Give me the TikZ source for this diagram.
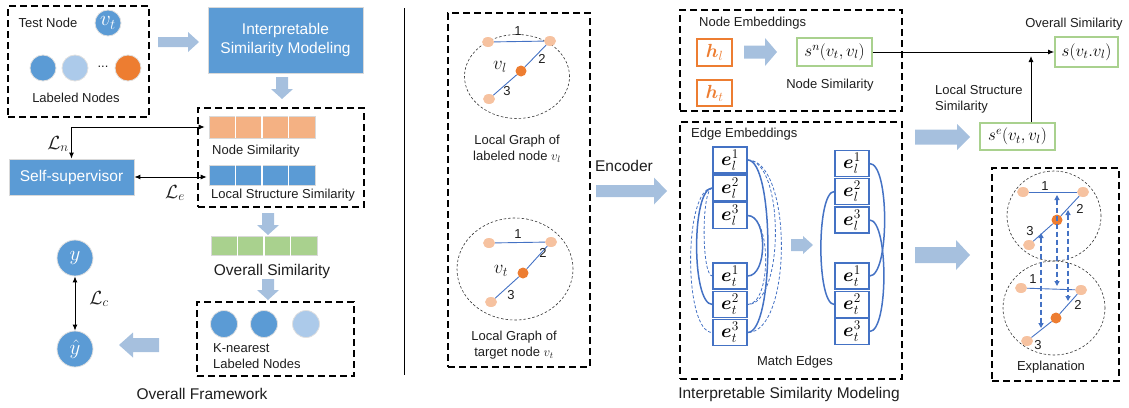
\RequirePackage{fix-cm}
\documentclass[tikz,border=0pt]{standalone}
\usepackage{fontspec}
\setmainfont{Liberation Sans}
\usepackage{amsmath}
\usepackage{bm}
\usetikzlibrary{arrows.meta,calc,shapes.geometric}

\definecolor{nblue}{RGB}{91,155,213}
\definecolor{lblue}{RGB}{172,202,234}
\definecolor{norange}{RGB}{237,125,49}
\definecolor{lorange}{RGB}{246,194,160}
\definecolor{barorange}{RGB}{244,177,131}
\definecolor{bargreen}{RGB}{169,209,142}
\definecolor{eblue}{RGB}{68,114,196}
\definecolor{fatc}{RGB}{166,192,222}
\definecolor{ink}{RGB}{30,30,30}

\tikzset{
  fat len/.store in=\fatlen, fat shaft/.store in=\fatshaft,
  fat head/.store in=\fathead, fat tip/.store in=\fattip,
  fat len=40, fat shaft=5, fat head=10, fat tip=11,
  fatarrow/.pic={
    \fill[fatc] (0,-\fatshaft) -- ({\fatlen-\fattip},-\fatshaft) -- ({\fatlen-\fattip},-\fathead)
      -- (\fatlen,0) -- ({\fatlen-\fattip},\fathead) -- ({\fatlen-\fattip},\fatshaft)
      -- (0,\fatshaft) -- cycle;
  },
  dbox/.style={draw=black, line width=1.3pt, dash pattern=on 7pt off 4pt, inner sep=0pt, outer sep=0pt},
  txt/.style={font=\fontsize{13}{16}\selectfont, text=ink, inner sep=0pt},
  bigtxt/.style={font=\fontsize{15.5}{19}\selectfont, text=ink, inner sep=0pt},
  mtxt/.style={font=\fontsize{19}{19}\selectfont, text=ink, inner sep=0pt},
  solidbox/.style={fill=nblue, draw=black!15, line width=0.8pt, text=white,
    font=\fontsize{15.5}{19}\selectfont, inner sep=0pt, align=center},
  dot/.style={circle, draw=black!12, line width=0.8pt, inner sep=0pt, minimum size=26pt},
  bigdot/.style={dot, fill=nblue, text=white, minimum size=36pt, font=\fontsize{21}{21}\selectfont},
  gnode/.style={ellipse, fill=lorange, minimum width=12pt, minimum height=10pt, inner sep=0pt},
  cnode/.style={circle, fill=norange, minimum size=11pt, inner sep=0pt},
  gedge/.style={eblue, line width=0.9pt},
  ring/.style={ellipse, draw=black!80, line width=0.6pt, dash pattern=on 2.5pt off 2pt, inner sep=0pt},
  bar/.style={draw=black!15, line width=0.6pt, minimum width=106pt, inner sep=0pt},
  emb/.style={draw=eblue, line width=1.3pt, fill=white, minimum width=34pt, minimum height=26pt,
    inner sep=0pt, font=\fontsize{19}{19}\selectfont},
  simbox/.style={draw=bargreen, line width=1.8pt, fill=white, inner sep=0pt, font=\fontsize{17}{17}\selectfont},
  hbox/.style={draw=norange, line width=1.3pt, minimum width=35pt, minimum height=27pt, inner sep=0pt,
    text=norange, font=\fontsize{19}{19}\selectfont},
  conn/.style={line width=0.9pt, black},
  oneway/.style={-{Latex[length=6pt,width=5pt]}},
  twoway/.style={{Latex[length=6pt,width=5pt]}-{Latex[length=6pt,width=5pt]}},
  match/.style={eblue, line width=1.5pt},
  cand/.style={eblue, line width=0.8pt, dash pattern=on 3pt off 2pt},
  expl/.style={eblue, line width=1.4pt, dash pattern=on 5pt off 3pt,
    {Triangle[length=5pt,width=5pt]}-{Triangle[length=5pt,width=5pt]}},
}

\begin{document}
\begin{tikzpicture}[x=1pt,y=-1pt]
\useasboundingbox (0,0) rectangle (1129,407);

%% ---------------- overall framework (left) ----------------
\node[dbox, minimum width=141pt, minimum height=111pt] (inputfr) at (78.5,61.5) {};
\node[txt] (testlbl) at (48,23) {Test Node};
\node[dot, fill=nblue, text=white, font=\fontsize{21}{21}\selectfont] (vt) at (108,23) {$v_t$};
\node[dot, fill=nblue] (ln1) at (43,68) {};
\node[dot, fill=lblue] (ln2) at (75,68) {};
\node[txt] (lndots) at (103,67) {...};
\node[dot, fill=norange] (ln3) at (128,68) {};
\node[txt] (lnlbl) at (76,98) {Labeled Nodes};

\pic[fat len=41, fat shaft=5, fat head=10, fat tip=11] at (158,42) {fatarrow};

\node[solidbox, minimum width=155pt, minimum height=66pt] (ism) at (285.5,40)
  {Interpretable\\Similarity Modeling};
\pic[rotate=-90, fat len=22, fat shaft=6, fat head=11, fat tip=10] at (282,77) {fatarrow};

\node[dbox, minimum width=166pt, minimum height=99pt] (simfr) at (281,157.5) {};
\node[bar, fill=barorange, minimum height=22pt] (nsbar) at (262,127) {};
\node[txt, anchor=west] (nslbl) at (212,151) {Node Similarity};
\node[bar, fill=nblue, minimum height=20pt] (lsbar) at (262,175.5) {};
\node[txt, anchor=west] (lslbl) at (211,195) {Local Structure Similarity};

\node[solidbox, minimum width=125pt, minimum height=36pt] (ss) at (71.5,177) {Self-supervisor};
\draw[conn, twoway, shorten <=4pt] (nsbar.west) -| (ss.north);
\node[mtxt] (lnlab) at (58,144) {$\mathcal{L}_n$};
\draw[conn, twoway, shorten >=2pt] (ss.east) -- (ss.east -| lsbar.west);
\node[mtxt] (lelab) at (175,193) {$\mathcal{L}_e$};

\pic[rotate=-90, fat len=22, fat shaft=6, fat head=11, fat tip=10] at (268,213) {fatarrow};
\node[bar, fill=bargreen, minimum height=19pt] (osbar) at (264,246) {};
\node[bigtxt] (oslbl) at (272,271) {Overall Similarity};
\pic[rotate=-90, fat len=21, fat shaft=6, fat head=11, fat tip=10] at (268,279) {fatarrow};

\foreach \b in {nsbar,lsbar,osbar}
  \foreach \i in {1,2,3}
    \draw[white, line width=1.2pt] ($(\b.north west)!\i/4!(\b.north east)$) -- ($(\b.south west)!\i/4!(\b.south east)$);

\node[dbox, minimum width=157pt, minimum height=74pt] (knnfr) at (275.5,339) {};
\node[dot, fill=nblue, minimum size=27pt] (k1) at (224,324) {};
\node[dot, fill=nblue, minimum size=27pt] (k2) at (264,324) {};
\node[dot, fill=lblue, minimum size=27pt] (k3) at (306,324) {};
\node[txt, anchor=west] (knn1) at (213,348) {K-nearest};
\node[txt, anchor=west] (knn2) at (213,364) {Labeled Nodes};
\pic[rotate=180, fat len=40, fat shaft=7, fat head=12.5, fat tip=14] at (159,345) {fatarrow};

\node[bigdot] (y) at (75,258) {$y$};
\node[bigdot] (yh) at (75,349) {$\hat{y}$};
\draw[conn, twoway] (y.south) -- (yh.north);
\node[mtxt] (lclab) at (99,299) {$\mathcal{L}_c$};

\node[bigtxt] (fwlbl) at (202,394) {Overall Framework};

%% separator
\draw[line width=1pt] (404,8) -- (404,375);

%% ---------------- local graphs ----------------
\node[dbox, minimum width=142pt, minimum height=354pt] (graphfr) at (519,190) {};

\node[ring, minimum width=105pt, minimum height=84pt] (ringl) at (517,76.5) {};
\node[gnode] (ga1) at (488,42) {};
\node[gnode] (ga2) at (550,41) {};
\node[cnode] (ga0) at (521,71) {};
\node[gnode] (ga3) at (489,99) {};
\draw[gedge] (ga1) -- (ga2);
\draw[gedge] (ga2) -- (ga0);
\draw[gedge] (ga0) -- (ga3);
\node[txt] (ga1n) at (518,31) {1};
\node[txt] (ga2n) at (542,59) {2};
\node[txt] (ga3n) at (507,91) {3};
\node[mtxt] (galbl) at (500,67) {$v_l$};
\node[txt, align=center] (glcap) at (517,149) {Local Graph of\\labeled node $v_l$};

\node[ring, minimum width=116pt, minimum height=102pt] (ringt) at (515,269) {};
\node[gnode] (gb1) at (489,243) {};
\node[gnode] (gb2) at (551,242) {};
\node[cnode] (gb0) at (523,273) {};
\node[gnode] (gb3) at (491,302) {};
\draw[gedge] (gb1) -- (gb2);
\draw[gedge] (gb2) -- (gb0);
\draw[gedge] (gb0) -- (gb3);
\node[txt] (gb1n) at (518,234) {1};
\node[txt] (gb2n) at (543,253) {2};
\node[txt] (gb3n) at (511,295) {3};
\node[mtxt] (gblbl) at (501,271) {$v_t$};
\node[txt, align=center] (gtcap) at (514,345.5) {Local Graph of\\target node $v_t$};

\node[bigtxt] (enclbl) at (624,166) {Encoder};
\pic[fat len=71, fat shaft=6, fat head=13.5, fat tip=13] at (596,191) {fatarrow};

%% ---------------- interpretable similarity modeling ----------------
\node[dbox, minimum width=222pt, minimum height=101pt] (nodefr) at (791,60.5) {};
\node[txt, anchor=west] (nelbl) at (699,23) {Node Embeddings};
\node[hbox] (hl) at (714.5,52.5) {$\bm{h}_l$};
\node[hbox, minimum height=26pt] (ht) at (714.5,93) {$\bm{h}_t$};
\pic[fat len=33, fat shaft=6.5, fat head=14, fat tip=12] at (744,52) {fatarrow};
\node[simbox, minimum width=75pt, minimum height=28pt] (sn) at (834.5,52) {$s^n(v_t,v_l)$};
\node[txt] (nsim) at (830,85) {Node Similarity};

\node[simbox, minimum width=63pt, minimum height=30pt] (ov) at (1086.5,52) {$s(v_t.v_l)$};
\node[txt] (ovlbl) at (1074,24) {Overall Similarity};
\draw[conn, oneway] (sn.east) -- (ov.west);

\node[simbox, minimum width=75pt, minimum height=27pt] (se) at (1017.5,136.5) {$s^e(v_t,v_l)$};
\node[txt, anchor=west, align=left] (lslbl2) at (935,99) {Local Structure\\Similarity};
\draw[conn, oneway, shorten >=4pt] ([xshift=13.5pt]se.north) -- ([xshift=13.5pt]se.north |- sn.east);
\pic[fat len=55, fat shaft=7.5, fat head=13, fat tip=13] at (915,137) {fatarrow};

\node[dbox, minimum width=222pt, minimum height=257pt] (edgefr) at (791,250.5) {};
\node[txt, anchor=west] (eelbl) at (691,134) {Edge Embeddings};

% candidate pairs
\node[emb] (el1) at (730,160) {$\bm{e}_l^1$};
\node[emb] (el2) at (730,188) {$\bm{e}_l^2$};
\node[emb] (el3) at (730,215.5) {$\bm{e}_l^3$};
\node[emb] (et1) at (730,276) {$\bm{e}_t^1$};
\node[emb] (et2) at (730,304.5) {$\bm{e}_t^2$};
\node[emb] (et3) at (730,332.5) {$\bm{e}_t^3$};

\draw[cand] (el1.east) .. controls +(45,0) and +(45,0) .. (et3.east);
\draw[cand] (el1.east) .. controls +(37,0) and +(37,0) .. (et2.east);
\draw[cand] (el3.east) .. controls +(24,0) and +(24,0) .. (et2.east);
\draw[cand] (el2.west) .. controls +(-11,0) and +(-11,0) .. (et1.west);
\draw[cand] (el2.west) .. controls +(-29,0) and +(-29,0) .. (et3.west);
\draw[match] (el1.east) .. controls +(27,0) and +(27,0) .. (et3.east);
\draw[match] (el3.east) .. controls +(20,0) and +(20,0) .. (et1.east);
\draw[match] (el2.west) .. controls +(-21,0) and +(-21,0) .. (et2.west);

\pic[fat len=22, fat shaft=6, fat head=9, fat tip=10] at (791,245) {fatarrow};

% matched pairs
\node[emb] (rl1) at (852,163.5) {$\bm{e}_l^1$};
\node[emb] (rl2) at (852,191.5) {$\bm{e}_l^2$};
\node[emb] (rl3) at (852,220) {$\bm{e}_l^3$};
\node[emb] (rt1) at (852,276) {$\bm{e}_t^1$};
\node[emb] (rt2) at (852,304.5) {$\bm{e}_t^2$};
\node[emb] (rt3) at (852,331.5) {$\bm{e}_t^3$};
\draw[match] (rl1.east) .. controls +(20,0) and +(20,0) .. (rt1.east);
\draw[match] (rl3.east) .. controls +(19,0) and +(19,0) .. (rt3.east);
\draw[match] (rl2.west) .. controls +(-18,0) and +(-18,0) .. (rt2.west);

\node[txt] (melbl) at (795,362) {Match Edges};
\node[bigtxt] (ismlbl) at (789,394) {Interpretable Similarity Modeling};

%% ---------------- explanation ----------------
\pic[fat len=55, fat shaft=8, fat head=15, fat tip=14] at (915,255) {fatarrow};
\node[dbox, minimum width=127pt, minimum height=213pt] (explfr) at (1055.5,274.5) {};

\node[ring, minimum width=94pt, minimum height=90pt] (ringa) at (1054,216) {};
\node[ring, minimum width=102pt, minimum height=94pt] (ringb) at (1054,308) {};

\node[gnode] (xa1) at (1023,192) {};
\node[gnode] (xa2) at (1083,192) {};
\node[cnode] (xa0) at (1057,220) {};
\node[gnode] (xa3) at (1029,245) {};
\draw[gedge] (xa1) -- (xa2);
\draw[gedge] (xa2) -- (xa0);
\draw[gedge] (xa0) -- (xa3);
\node[txt] (xa1n) at (1045,186) {1};
\node[txt] (xa2n) at (1080,209) {2};
\node[txt] (xa3n) at (1030,231) {3};

\node[gnode] (xb1) at (1021,288) {};
\node[gnode] (xb2) at (1081,290) {};
\node[cnode] (xb0) at (1056,318) {};
\node[gnode] (xb3) at (1027,341) {};
\draw[gedge] (xb1) -- (xb2);
\draw[gedge] (xb2) -- (xb0);
\draw[gedge] (xb0) -- (xb3);
\node[txt] (xb1n) at (1033,279) {1};
\node[txt] (xb2n) at (1078,305) {2};
\node[txt] (xb3n) at (1038,345) {3};

\coordinate (p1) at (1057,195);
\coordinate (q1) at (1057,286);
\coordinate (p2) at (1068,210);
\coordinate (q2) at (1068,301);
\coordinate (p3) at (1041,233);
\coordinate (q3) at (1041,328);
\draw[expl] (p1) -- (q1);
\draw[expl] (p2) -- (q2);
\draw[expl] (p3) -- (q3);

\node[txt] (expllbl) at (1051,367) {Explanation};
\end{tikzpicture}
\end{document}
